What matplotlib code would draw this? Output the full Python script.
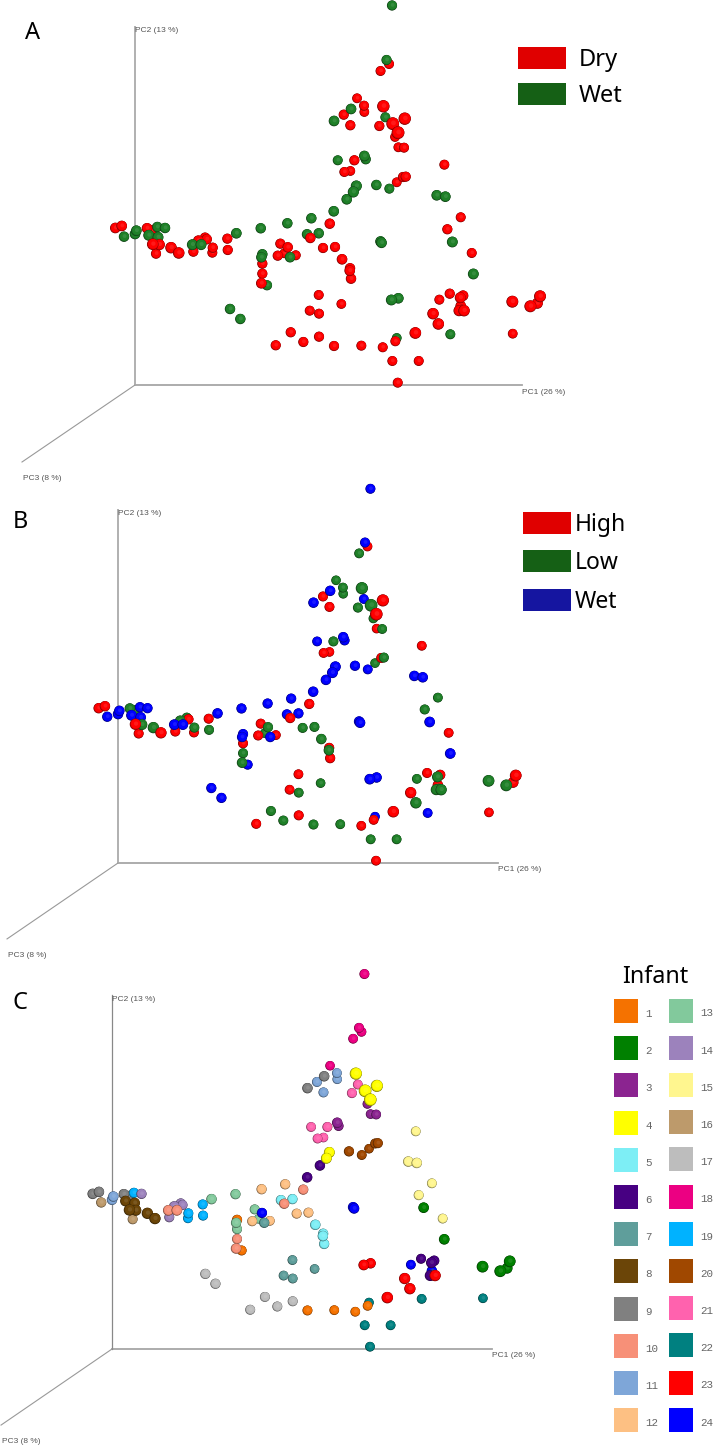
import numpy as np
import matplotlib
matplotlib.use("Agg")
import matplotlib.pyplot as plt
from matplotlib.colors import to_rgb
from matplotlib.patches import Rectangle

W, H = 713, 1446

# screen position of every sample
pc1 = [392, 386.5, 389, 380.5, 357, 364, 364.3, 351, 343.7, 334,
       350.3, 383.3, 385.3, 404.7, 379.3, 392.7, 398, 395, 398.3, 404,
       337.7, 354.3, 364.3, 365.7, 344.3, 350.3, 356.3, 353.3, 346.7, 333.7,
       329.7, 376.3, 389.3, 396.7, 403, 405.7, 444.3, 436.7, 445.3, 460.7,
       447.3, 452.3, 471.7, 473.3, 380.5, 381.5, 391.3, 398.3, 439.3, 449.7,
       463, 460.3, 460.7, 459, 464, 461.7, 433, 438.3, 415.3, 450.3,
       512.3, 530.3, 537.3, 540, 512.7, 396.7, 395.3, 382.7, 361.3, 392.3,
       418.7, 397.7, 334, 319, 303.3, 290.7, 275.7, 319, 309.7, 318.7,
       341.3, 230, 240.3, 262.3, 261.3, 262.3, 262.3, 261.3, 267, 280.3,
       287.7, 277.7, 284.3, 290, 295.7, 260.7, 287.3, 311.3, 307, 318.7,
       310.3, 323, 335, 342, 350, 349.7, 351, 115.3, 121.7, 124,
       135, 136.3, 147, 152.7, 157.3, 165, 148.7, 158, 152.7, 159.3,
       156, 171, 178.7, 198.3, 205, 206.7, 192.3, 201, 193.3, 212.7,
       212.3, 227.3, 236.3, 227.7]
pc2 = [5.5, 60, 64, 71, 98.3, 105.7, 112, 109, 114.7, 121,
       125.3, 106.3, 117.3, 118.7, 126, 123.7, 132.7, 137, 147.3, 147.7,
       160.3, 160.3, 156, 159.3, 172, 171, 186, 192, 199.3, 211.3,
       223.7, 185, 188.7, 182.3, 177, 176.7, 164.7, 195.3, 196.7, 217.3,
       229.3, 242, 253, 274, 241.5, 242.8, 300, 298.3, 299.7, 293.7,
       295.7, 297.7, 306, 310.7, 310.7, 310, 313.7, 324, 333, 334.3,
       301.7, 306.3, 303.3, 296.3, 333.7, 338, 341.3, 347.3, 345.7, 361,
       361, 382.7, 346, 336.7, 342, 332.3, 345.3, 313.7, 310.7, 295,
       304, 309, 319, 254.3, 257.3, 263.7, 273.7, 283.3, 285.3, 243.7,
       247.3, 255.7, 253.3, 257.3, 255.3, 228.3, 223.3, 218.3, 234.3, 233.3,
       238, 248, 247, 259.3, 268.3, 270.7, 278.7, 228, 226, 236.7,
       234, 230.7, 228.3, 230, 227, 228, 235.3, 237.3, 244.3, 244.7,
       253.7, 247.7, 253, 240.7, 237.7, 239.3, 244.7, 244.7, 251.7, 247.7,
       252.7, 238.7, 233.3, 250]
# nearness to the viewer, judged from how large a sphere looks (0 far, 1 near)
depth = [.4, .4, .35, .35, .3, .35, .3, .5, .4, .5,
         .4, .9, .35, .9, .4, 1, 1, .3, .3, .35,
         .35, .4, .5, .4, .35, .3, .6, .6, .5, .5,
         .45, .45, .35, .3, .4, .4, .35, .5, .5, .35,
         .4, .55, .35, .55, .5, .5, .55, .5, .35, .4,
         .5, .6, .5, .6, .7, .55, .7, .7, .75, .35,
         .8, .8, .6, .8, .3, .3, .35, .35, .35, .35,
         .35, .35, .4, .4, .4, .4, .4, .35, .35, .35,
         .3, .45, .45, .45, .45, .4, .4, .5, .4, .4,
         .45, .4, .3, .45, .35, .45, .45, .45, .45, .45,
         .45, .4, .4, .5, .45, .5, .45, .5, .5, .45,
         .5, .5, .5, .45, .45, .45, .55, .55, .7, .6,
         .4, .7, .7, .5, .45, .45, .55, .55, .4, .4,
         .35, .4, .5, .4]
level = list("WWHLLLLWHW"
             "HLWHLLHLHL"
             "WLWWHHWWWW"
             "HWWLHLHWWL"
             "LWHWWWWWLH"
             "HLHLLLHLHW"
             "LLHHHWHHLL"
             "LHLHLLHLHH"
             "LWWWWHLLWH"
             "LHLWHWWWWW"
             "HLLLHLHHHW"
             "WWLLWWWWHL"
             "HLHLLHWWHL"
             "HHWL")
infant = [18, 18, 18, 18, 18, 11, 11, 9, 11, 9,
          11, 4, 21, 4, 21, 4, 4, 3, 3, 3,
          21, 21, 3, 3, 21, 21, 4, 4, 6, 6,
          10, 20, 20, 20, 20, 20, 15, 15, 15, 15,
          15, 2, 15, 2, 24, 24, 23, 23, 24, 6,
          6, 6, 24, 6, 23, 7, 23, 23, 23, 22,
          2, 2, 2, 2, 22, 22, 1, 1, 1, 22,
          22, 22, 1, 17, 17, 17, 17, 7, 7, 7,
          7, 17, 17, 1, 13, 13, 10, 10, 1, 13,
          24, 12, 13, 7, 12, 13, 12, 12, 5, 5,
          10, 12, 12, 5, 5, 5, 5, 9, 9, 16,
          11, 11, 9, 9, 19, 14, 8, 8, 8, 8,
          16, 8, 8, 14, 14, 14, 10, 10, 14, 19,
          19, 19, 13, 19]

infant_ids = list(range(1, 25))
infant_colors = ["#F57200", "#008000", "#8B2490", "#FFFF00", "#7DEEF5", "#470082",
                 "#5F9E9B", "#6B4508", "#808080", "#F79078", "#7EA6D8", "#FDC083",
                 "#82C99C", "#9C82BC", "#FFF68F", "#BD9A6B", "#BDBDBD", "#EC0082",
                 "#00B2FF", "#A04800", "#FF62AE", "#008080", "#FF0000", "#0000FF"]

assert len(pc1) == len(pc2) == len(depth) == len(level) == len(infant)

SPHERE_RED = "#FF0000"
SPHERE_GREEN = "#1F8028"
SPHERE_BLUE = "#0000FF"

colors_a = [SPHERE_GREEN if v == "W" else SPHERE_RED for v in level]
colors_b = [{"H": SPHERE_RED, "L": SPHERE_GREEN, "W": SPHERE_BLUE}[v] for v in level]
colors_c = [infant_colors[i - 1] for i in infant]

LABEL_FONT = ["Liberation Sans", "DejaVu Sans"]
LEGEND_FONT = ["Noto Sans", "DejaVu Sans"]


def shade(color, f):
    # f < 1 goes to black, f > 1 goes to white
    c = np.array(to_rgb(color))
    return tuple(c * f) if f <= 1 else tuple(c + (1 - c) * (f - 1))


def draw_spheres(ax, colors, scale):
    # painting order inside one scatter follows the array, so each sphere
    # can be built from a few nested discs and still overlap correctly
    order = np.argsort(depth, kind="stable")
    layers = [(1.0, 0.0, 0.4), (0.95, 0.03, 0.82), (0.84, 0.07, 1.0), (0.38, 0.12, 1.1)]
    xs, ys, sizes, cols = [], [], [], []
    for i in order:
        r = (4.2 + 2.2 * depth[i]) * scale
        for rad, shift, f in layers:
            xs.append(pc1[i] + shift * r)
            ys.append(pc2[i] - shift * r)
            sizes.append((2 * rad * r * 72 / 100) ** 2)
            cols.append(shade(colors[i], f))
    ax.scatter(xs, ys, s=sizes, c=cols, linewidths=0, zorder=3, clip_on=False)


def draw_panel(fig, colors, origin, scale, top, bottom, yaxis_style):
    ox, oy = origin
    ax = fig.add_axes([0, 1 - bottom / H, 1, (bottom - top) / H])
    ax.set_xlim(135 - ox / scale[0], 135 + (W - ox) / scale[0])
    ax.set_ylim(385 + (bottom - oy) / scale[1], 385 + (top - oy) / scale[1])
    ax.axis("off")
    ax.patch.set_alpha(0)

    ax.plot([135, 522], [385, 385], color="#A6A6A6", lw=1.3, zorder=1)
    ax.plot([135, 135], [385, 27], zorder=1, **yaxis_style)
    ax.plot([135, 22], [385, 462], color="#999999", lw=0.8, zorder=1)

    label = dict(fontsize=6.0, color="#555555", family=LABEL_FONT, va="center")
    ax.text(135, 31, "PC2 (13 %)", **label)
    ax.text(522, 392, "PC1 (26 %)", **label)
    ax.text(23, 479, "PC3 (8 %)", **label)
    draw_spheres(ax, colors, scale[0])
    return ax


fig = plt.figure(figsize=(W / 100, H / 100), dpi=100, facecolor="white")

draw_panel(fig, colors_a, (135, 385), (1, 1), 0, 482, dict(color="#B0B0B0", lw=1.4))
draw_panel(fig, colors_b, (118, 863), (0.982, 0.986), 482, 968, dict(color="#B0B0B0", lw=1.4))
draw_panel(fig, colors_c, (112, 1349), (0.982, 0.988), 968, H, dict(color="#888888", lw=0.9))

# overlay in picture pixels for the legends and panel letters
top = fig.add_axes([0, 0, 1, 1], zorder=5)
top.set_xlim(0, W)
top.set_ylim(H, 0)
top.axis("off")
top.patch.set_alpha(0)

for letter, x, y in [("A", 25, 33), ("B", 13, 522), ("C", 13, 1003)]:
    top.text(x, y, letter, fontsize=17, family=LEGEND_FONT, color="black", va="center")

for name, col, y in [("Dry", "#E00000", 47), ("Wet", "#156015", 83)]:
    top.add_patch(Rectangle((518, y), 48, 22, fc=col, ec="none"))
    top.text(579, y + 13, name, fontsize=17, family=LEGEND_FONT, va="center")

for name, col, y in [("High", "#E00000", 512), ("Low", "#156015", 550), ("Wet", "#1515A0", 589)]:
    top.add_patch(Rectangle((523, y), 48, 22, fc=col, ec="none"))
    top.text(575, y + 13, name, fontsize=16.5, family=LEGEND_FONT, va="center")

top.text(655, 977, "Infant", fontsize=16.8, family=LEGEND_FONT, ha="center", va="center")
for k, (num, col) in enumerate(zip(infant_ids, infant_colors)):
    row = k % 12
    x0, tx, y0 = (614, 645.5, 999) if k < 12 else (668.5, 700, 998.5)
    y = y0 + row * 37.2
    top.add_patch(Rectangle((x0, y), 24.3, 24, fc=col, ec="none"))
    top.text(tx, y + 15, str(num), fontsize=7.8, family=["Liberation Mono", "DejaVu Sans Mono"],
             color="#666666", va="center")

fig.savefig("out.png", dpi=100)
